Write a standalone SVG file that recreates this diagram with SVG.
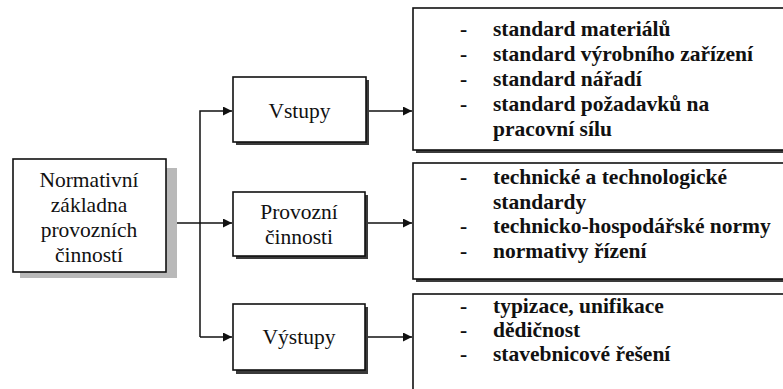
<svg xmlns="http://www.w3.org/2000/svg" width="783" height="389" viewBox="0 0 783 389">
  <defs>
    <style>
      .box { fill: #fff; stroke: #111; stroke-width: 1.6; }
      .shadow { fill: #3a3a3a; }
      .softshadow { fill: #b9b9b9; }
      .wire { fill: none; stroke: #111; stroke-width: 1.5; }
      .label { font-family: "Liberation Serif", "Times New Roman", serif; font-size: 21.5px; fill: #111; text-anchor: middle; }
      .item { font-family: "Liberation Serif", "Times New Roman", serif; font-size: 21.5px; font-weight: bold; fill: #111; }
      .dash { font-family: "Liberation Serif", "Times New Roman", serif; font-size: 21.5px; font-weight: bold; fill: #111; }
    </style>
    <marker id="arrow" viewBox="0 0 10 10" refX="10" refY="5" markerWidth="11" markerHeight="9" markerUnits="userSpaceOnUse" orient="auto">
      <path d="M0,0 L10,5 L0,10 Z" fill="#111"/>
    </marker>
  </defs>

  <rect width="783" height="389" fill="#fff"/>

  <!-- connectors -->
  <g id="connectors">
    <path class="wire" d="M166,223 H232" marker-end="url(#arrow)"/>
    <path class="wire" d="M200,337 V111 H232" marker-end="url(#arrow)"/>
    <path class="wire" d="M200,337 H232" marker-end="url(#arrow)"/>
    <path class="wire" d="M366,111 H412" marker-end="url(#arrow)"/>
    <path class="wire" d="M366,223 H412" marker-end="url(#arrow)"/>
    <path class="wire" d="M366,337 H412" marker-end="url(#arrow)"/>
  </g>

  <!-- root node -->
  <g id="node-zaklad">
    <rect class="softshadow" x="166" y="168" width="11" height="110"/>
    <rect class="softshadow" x="20" y="272" width="157" height="6"/>
    <rect class="box" x="13" y="159" width="153" height="113"/>
    <text class="label" x="89" y="187">Normativní</text>
    <text class="label" x="89" y="212">základna</text>
    <text class="label" x="89" y="237">provozních</text>
    <text class="label" x="89" y="262">činností</text>
  </g>

  <!-- middle column -->
  <g id="node-vstupy">
    <rect class="shadow" x="236" y="80" width="133" height="65"/>
    <rect class="box" x="233" y="77" width="133" height="65"/>
    <text class="label" x="299.5" y="118">Vstupy</text>
  </g>

  <g id="node-provozni">
    <rect class="shadow" x="236" y="195" width="132" height="64"/>
    <rect class="box" x="233" y="192" width="132" height="64"/>
    <text class="label" x="299" y="219">Provozní</text>
    <text class="label" x="299" y="244">činnosti</text>
  </g>

  <g id="node-vystupy">
    <rect class="shadow" x="236" y="307" width="132" height="67"/>
    <rect class="box" x="233" y="304" width="132" height="66"/>
    <text class="label" x="299" y="344">Výstupy</text>
  </g>

  <!-- right column: lists -->
  <g id="node-vstupy-list">
    <rect class="shadow" x="416" y="11" width="380" height="142"/>
    <rect class="box" x="413" y="8" width="380" height="142"/>
    <text class="dash" x="460" y="36">-</text>
    <text class="dash" x="460" y="61">-</text>
    <text class="dash" x="460" y="86">-</text>
    <text class="dash" x="460" y="111">-</text>
    <text class="item" x="493" y="36">standard materiálů</text>
    <text class="item" x="493" y="61">standard výrobního zařízení</text>
    <text class="item" x="493" y="86">standard nářadí</text>
    <text class="item" x="493" y="111">standard požadavků na</text>
    <text class="item" x="493" y="136">pracovní sílu</text>
  </g>

  <g id="node-provozni-list">
    <rect class="shadow" x="416" y="166" width="380" height="116"/>
    <rect class="box" x="413" y="163" width="380" height="116"/>
    <text class="dash" x="460" y="184">-</text>
    <text class="dash" x="460" y="233">-</text>
    <text class="dash" x="460" y="258">-</text>
    <text class="item" x="493" y="184">technické a technologické</text>
    <text class="item" x="493" y="209">standardy</text>
    <text class="item" x="493" y="233">technicko-hospodářské normy</text>
    <text class="item" x="493" y="258">normativy řízení</text>
  </g>

  <g id="node-vystupy-list">
    <rect class="box" x="413" y="294" width="380" height="100"/>
    <text class="dash" x="460" y="313">-</text>
    <text class="dash" x="460" y="337">-</text>
    <text class="dash" x="460" y="361">-</text>
    <text class="item" x="493" y="313">typizace, unifikace</text>
    <text class="item" x="493" y="337">dědičnost</text>
    <text class="item" x="493" y="361">stavebnicové řešení</text>
  </g>
</svg>
